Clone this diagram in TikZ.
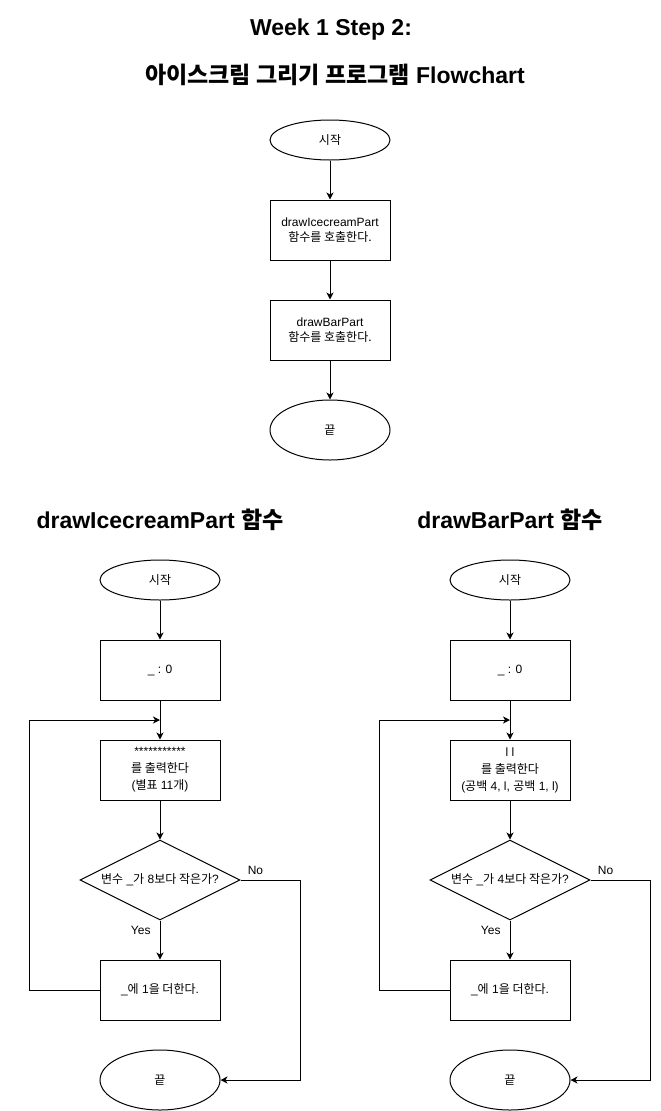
\documentclass[tikz,border=0pt]{standalone}
\usepackage{fontspec}
\setmainfont{Liberation Sans}
\newfontfamily\kr{Noto Sans CJK KR}
\usetikzlibrary{shapes.geometric,arrows.meta}
\begin{document}
\begin{tikzpicture}[x=1pt,y=-1pt,
  base/.style={draw,line width=1pt,inner sep=0pt,font=\fontsize{12}{15}\selectfont,align=center},
  term/.style={base,ellipse,minimum width=120pt,minimum height=40pt},
  proc/.style={base,rectangle,minimum width=120pt,minimum height=60pt},
  dia/.style={base,diamond,minimum width=160pt,minimum height=80pt},
  arr/.style={line width=1pt,-{Stealth[length=7pt,width=7pt,inset=2pt]}},
  lab/.style={font=\fontsize{12}{14}\selectfont,inner sep=0pt},
  title/.style={font=\fontsize{23}{27}\selectfont\bfseries,inner sep=0pt}]
\useasboundingbox (0,0) rectangle (661,1111);

% titles
\node[title] (h1) at (331,30) {Week 1 Step 2:};
\node[title] (h2) at (335,75) {{\kr\bfseries 아이스크림 그리기 프로그램} Flowchart};
\node[title] (hl) at (160,520) {drawIcecreamPart {\kr\bfseries 함수}};
\node[title] (hr) at (510,520) {drawBarPart {\kr\bfseries 함수}};

% top chart
\node[term] (ts) at (330,140) {\kr 시작};
\node[proc] (t1) at (330,230) {drawIcecreamPart\\{\kr 함수를 호출한다.}};
\node[proc] (t2) at (330,330) {drawBarPart\\{\kr 함수를 호출한다.}};
\node[term,minimum height=60pt] (te) at (330,430) {\kr 끝};
\draw[arr] (ts) -- (t1);
\draw[arr] (t1) -- (t2);
\draw[arr] (t2) -- (te);

% left chart
\node[term] (ls) at (160,580) {\kr 시작};
\node[proc] (li) at (160,670) {\_ : 0};
\node[proc,font=\fontsize{12}{17}\selectfont] (lp) at (160,770) {***********\\{\kr 를 출력한다}\\({\kr 별표} 11{\kr 개})};
\node[dia] (ld) at (160,880) {};
\node[lab] (ldt) at (ld) {{\kr 변수} \_{\kr 가} 8{\kr 보다 작은가}?};
\node[proc] (la) at (160,990) {\_{\kr 에} 1{\kr 을 더한다}.};
\node[term,minimum height=60pt] (le) at (160,1080) {\kr 끝};
\coordinate (lj) at (160,720);
\draw[arr] (ls) -- (li);
\draw[arr] (li) -- (lp);
\draw[arr] (lp) -- (ld);
\draw[arr] (ld.south) -- node[lab,pos=0.25,left=9pt] {Yes} (la.north);
\draw[arr] (la.west) -- ++(-70,0) |- (lj);
\draw[arr] (ld.east) -- node[lab,pos=0.25,above=5pt] {No} ++(60,0) |- (le.east);

% right chart
\node[term] (rs) at (510,580) {\kr 시작};
\node[proc] (ri) at (510,670) {\_ : 0};
\node[proc,font=\fontsize{12}{17}\selectfont] (rp) at (510,770) {l l\\{\kr 를 출력한다}\\({\kr 공백} 4, l, {\kr 공백} 1, l)};
\node[dia] (rd) at (510,880) {};
\node[lab] (rdt) at (rd) {{\kr 변수} \_{\kr 가} 4{\kr 보다 작은가}?};
\node[proc] (ra) at (510,990) {\_{\kr 에} 1{\kr 을 더한다}.};
\node[term,minimum height=60pt] (re) at (510,1080) {\kr 끝};
\coordinate (rj) at (510,720);
\draw[arr] (rs) -- (ri);
\draw[arr] (ri) -- (rp);
\draw[arr] (rp) -- (rd);
\draw[arr] (rd.south) -- node[lab,pos=0.25,left=9pt] {Yes} (ra.north);
\draw[arr] (ra.west) -- ++(-70,0) |- (rj);
\draw[arr] (rd.east) -- node[lab,pos=0.25,above=5pt] {No} ++(60,0) |- (re.east);
\end{tikzpicture}
\end{document}
